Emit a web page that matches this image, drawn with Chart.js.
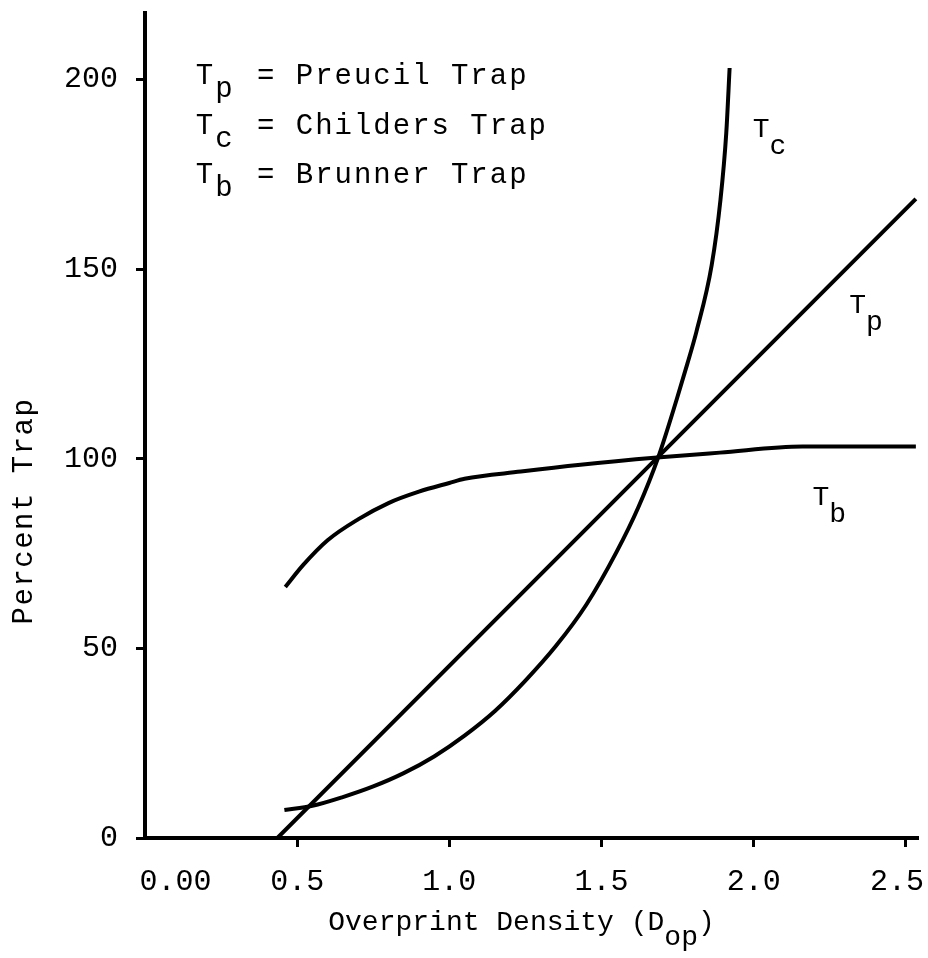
<!DOCTYPE html>
<html>
<head>
<meta charset="utf-8">
<script src="https://cdn.jsdelivr.net/npm/chart.js@4"></script>
<style>
  html, body { margin: 0; padding: 0; background: #fff; }
  #wrap { width: 928px; height: 958px; }
</style>
</head>
<body>
<div id="wrap"><canvas id="trapChart"></canvas></div>
<script>
// Preucil trap (straight line)
const preucilX = [0.435, 1.686, 2.533];
const preucilY = [0, 100.5, 168.5];

// Childers trap
const childersX = [0.458, 0.55, 0.65, 0.75, 0.85, 0.95, 1.05, 1.15, 1.25, 1.35, 1.45, 1.55, 1.62, 1.687, 1.747, 1.782, 1.812, 1.862, 1.891, 1.91, 1.921];
const childersY = [7.4, 8.5, 10.8, 13.6, 17.1, 21.5, 27, 33.5, 41.5, 50.6, 61.5, 75.5, 87, 100.5, 115.6, 125, 133.5, 151, 168.3, 185.9, 203];

// Brunner trap
const brunnerX = [0.461, 0.52, 0.6, 0.7, 0.8, 0.9, 1.0, 1.05, 1.235, 1.431, 1.683, 1.889, 2.16, 2.533];
const brunnerY = [66.2, 72, 78.5, 84, 88.3, 91.3, 93.6, 94.7, 96.6, 98.4, 100.3, 101.6, 103.2, 103.2];

const xTickValues = [0.1, 0.5, 1.0, 1.5, 2.0, 2.5];
const xTickLabels = ["0.00", "0.5", "1.0", "1.5", "2.0", "2.5"];
const yTickValues = [0, 50, 100, 150, 200];

const seriesSymbols = ["p", "c", "b"];
const seriesNames = ["Preucil Trap", "Childers Trap", "Brunner Trap"];

const FONT = '"Liberation Mono", "Courier New", monospace';

function toPoints(xs, ys) {
  return xs.map((x, i) => ({ x: x, y: ys[i] }));
}

function lineSet(xs, ys, smooth) {
  return {
    data: toPoints(xs, ys),
    borderColor: "#000",
    borderWidth: 4,
    pointRadius: 0,
    fill: false,
    cubicInterpolationMode: smooth ? "monotone" : "default",
    tension: 0,
  };
}

// T with a subscript, then the rest of the text
function drawSubText(ctx, x, y, main, sub, rest, size, drop, restGap) {
  ctx.font = size + "px " + FONT;
  ctx.fillText(main, x, y);
  const adv = ctx.measureText("M").width;
  ctx.fillText(sub, x + adv, y + drop);
  if (rest) ctx.fillText(rest, x + adv * restGap, y);
}

const textPlugin = {
  id: "textPlugin",
  afterDraw(chart) {
    const ctx = chart.ctx;
    const xs = chart.scales.x;
    const ys = chart.scales.y;
    const area = chart.chartArea;
    ctx.save();
    ctx.fillStyle = "#000";
    ctx.textBaseline = "alphabetic";

    // x tick labels, kept inside the canvas
    ctx.textAlign = "center";
    ctx.font = "30px " + FONT;
    xTickLabels.forEach((lab, i) => {
      const w = ctx.measureText(lab).width;
      let px = xs.getPixelForValue(xTickValues[i]);
      px = Math.min(px, chart.width - 4 - w / 2);
      ctx.fillText(lab, px, area.bottom + 52);
    });

    ctx.textAlign = "left";
    // key in the upper left
    ctx.letterSpacing = "2px";
    const keyRows = [198.7, 185.5, 172.8];
    seriesSymbols.forEach((s, i) => {
      drawSubText(ctx, xs.getPixelForValue(0.167), ys.getPixelForValue(keyRows[i]),
        "T", s, "= " + seriesNames[i], 29, 13, 3.15);
    });

    // curve labels
    ctx.letterSpacing = "0px";
    drawSubText(ctx, xs.getPixelForValue(1.997), ys.getPixelForValue(184.7), "T", "c", "", 28, 17, 0);
    drawSubText(ctx, xs.getPixelForValue(2.314), ys.getPixelForValue(138.5), "T", "p", "", 28, 17, 0);
    drawSubText(ctx, xs.getPixelForValue(2.193), ys.getPixelForValue(87.9), "T", "b", "", 28, 17, 0);

    // x axis title with subscript
    ctx.font = "28px " + FONT;
    const a = "Overprint Density (D";
    const adv = ctx.measureText("M").width;
    const wA = ctx.measureText(a).width;
    const total = wA + adv * 3;
    const startX = (area.left + area.right) / 2 - 10 - total / 2;
    const base = area.bottom + 92;
    ctx.fillText(a, startX, base);
    ctx.fillText("op", startX + wA, base + 15);
    ctx.fillText(")", startX + wA + adv * 2, base);

    // y axis title
    ctx.translate(32, 511);
    ctx.rotate(-Math.PI / 2);
    ctx.textAlign = "center";
    ctx.letterSpacing = "1.5px";
    ctx.font = "29px " + FONT;
    ctx.fillText("Percent Trap", 0, 0);
    ctx.restore();
  },
};

new Chart(document.getElementById("trapChart"), {
  type: "line",
  data: {
    datasets: [
      lineSet(preucilX, preucilY, false),
      lineSet(childersX, childersY, true),
      lineSet(brunnerX, brunnerY, true),
    ],
  },
  options: {
    responsive: true,
    maintainAspectRatio: false,
    animation: false,
    layout: { padding: { top: 13, right: 10, left: 0, bottom: 0 } },
    plugins: { legend: { display: false }, tooltip: { enabled: false } },
    scales: {
      x: {
        type: "linear",
        min: 0,
        max: 2.54,
        afterBuildTicks: (s) => { s.ticks = xTickValues.map((v) => ({ value: v })); },
        afterFit: (s) => {
          s.height = 120;
          s.paddingLeft = 0;
          s.paddingRight = 0;
        },
        ticks: { display: false },
        grid: {
          drawOnChartArea: false,
          tickLength: 9,
          tickWidth: 3,
          tickColor: (c) => (c.index === 0 ? "rgba(0,0,0,0)" : "#000"),
        },
        border: { color: "#000", width: 4 },
      },
      y: {
        min: 0,
        max: 217.5,
        afterBuildTicks: (s) => { s.ticks = yTickValues.map((v) => ({ value: v })); },
        afterFit: (s) => {
          s.width = 145;
          s.paddingTop = 0;
          s.paddingBottom = 0;
        },
        ticks: {
          padding: 18,
          color: "#000",
          font: { family: FONT, size: 30 },
        },
        grid: {
          drawOnChartArea: false,
          tickLength: 9,
          tickWidth: 3,
          tickColor: "#000",
        },
        border: { color: "#000", width: 4 },
      },
    },
  },
  plugins: [textPlugin],
});
</script>
</body>
</html>
